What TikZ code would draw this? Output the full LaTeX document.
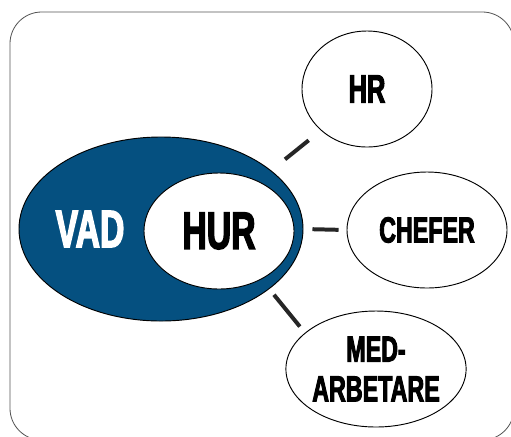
\documentclass[tikz,border=0pt]{standalone}
\usepackage{fontspec}
\newfontfamily\condfont[FakeStretch=0.64,FakeBold=2.5]{Liberation Sans}
\usetikzlibrary{shapes.geometric,positioning}
\definecolor{vadblue}{RGB}{5,80,128}
\definecolor{framegray}{RGB}{85,85,85}

\begin{document}
\begin{tikzpicture}[x=0.03cm,y=-0.03cm,
    bubble/.style={ellipse,draw,line width=0.8pt,fill=white,inner sep=0pt,
      minimum height=3.48cm,font=\condfont\bfseries},
    link/.style={line width=3.4pt,draw=black!85}]
   \useasboundingbox (0,0) rectangle (511,436);
   \draw[framegray,line width=0.7pt,rounded corners=0.95cm] (10,12) rectangle (514,440);
   \node[ellipse,draw,line width=0.8pt,fill=vadblue,minimum width=8.52cm,minimum height=5.52cm] (vad) at (161,229) {};
   \node[text=white,font=\condfont\bfseries\fontsize{45}{48}\selectfont] (vadtxt) at (90,229) {VAD};
   \node[bubble,minimum width=4.5cm,font=\condfont\bfseries\fontsize{45}{48}\selectfont] (hur) at (219,231) {HUR};
   \node[bubble,minimum width=3.9cm,font=\condfont\bfseries\fontsize{34}{36}\selectfont] (hr) at (367,89) {HR};
   \node[bubble,minimum width=4.8cm,font=\condfont\bfseries\fontsize{31}{33}\selectfont] (chefer) at (427,230) {CHEFER};
   \node[bubble,minimum width=5.4cm,align=center,font=\condfont\bfseries\fontsize{31}{34}\selectfont] (med) at (376,369) {MED-\\ARBETARE};
   \path[link]
    (vad.28) edge [shorten <=0.53cm,shorten >=0.47cm] (hr.222)
    (vad.east) edge [shorten <=0.27cm,shorten >=0.24cm] (chefer.west)
    (vad.-29) edge [shorten <=0.22cm,shorten >=0.24cm] (med.153);
\end{tikzpicture}
\end{document}
